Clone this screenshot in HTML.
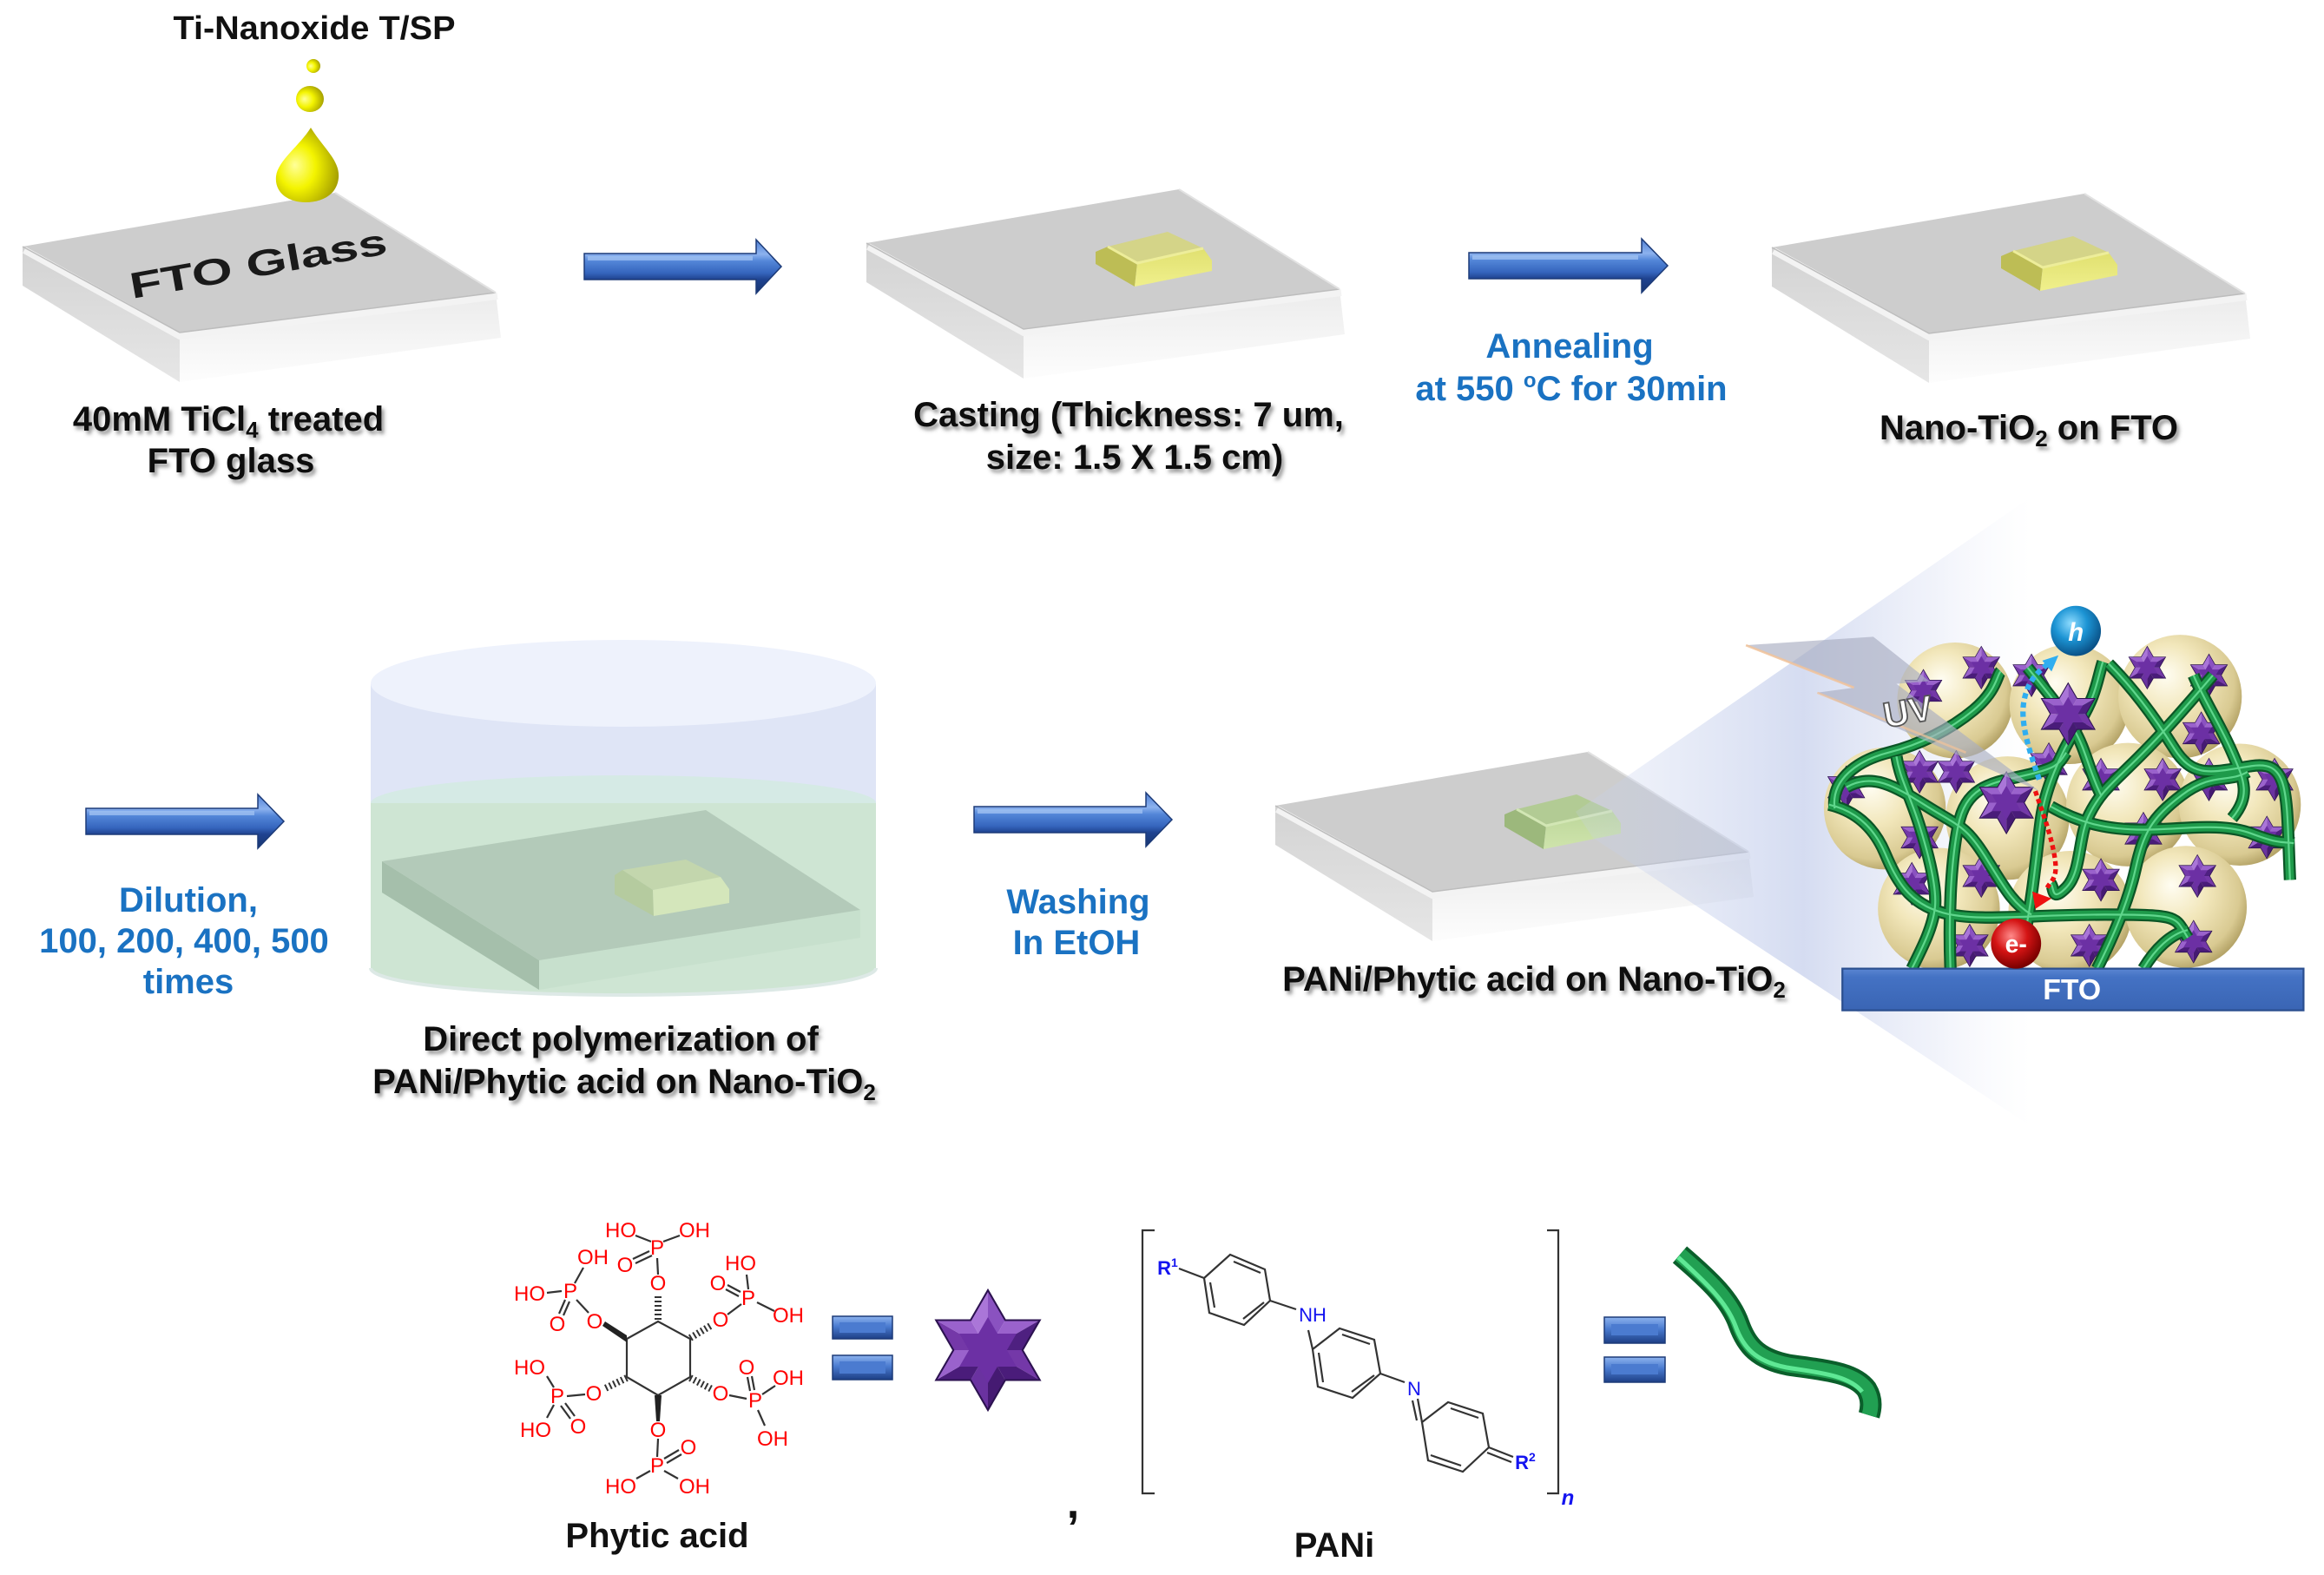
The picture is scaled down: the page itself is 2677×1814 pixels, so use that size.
<!DOCTYPE html>
<html><head><meta charset="utf-8">
<style>
html,body{margin:0;padding:0;background:#fff;}
svg{display:block;}
text{font-family:"Liberation Sans",Arial,sans-serif;font-weight:bold;}
.chem{font-weight:normal;fill:#ff0000;font-size:24px;}
.bl{fill:#1a72c2;}
</style></head><body>
<svg width="2677" height="1814" viewBox="0 0 2677 1814" xmlns="http://www.w3.org/2000/svg" xmlns:xlink="http://www.w3.org/1999/xlink">
<defs>
 <filter id="sh" x="-10%" y="-40%" width="125%" height="190%">
   <feDropShadow dx="3" dy="4" stdDeviation="2.2" flood-color="#444" flood-opacity="0.55"/>
 </filter>
 <linearGradient id="ag" x1="0" y1="0" x2="0" y2="1">
  <stop offset="0" stop-color="#4f7fd4"/><stop offset="0.27" stop-color="#8cb2ee"/>
  <stop offset="0.4" stop-color="#5386d8"/><stop offset="0.62" stop-color="#3565bd"/>
  <stop offset="0.74" stop-color="#1f4390"/><stop offset="1" stop-color="#173570"/>
 </linearGradient>
 <linearGradient id="eqg" x1="0" y1="0" x2="0" y2="1">
  <stop offset="0" stop-color="#8db3ee"/><stop offset="0.45" stop-color="#4a7bd0"/><stop offset="1" stop-color="#1d3f86"/>
 </linearGradient>
 <linearGradient id="lf" x1="0" y1="0" x2="0" y2="1"><stop offset="0" stop-color="#d3d3d3"/><stop offset="1" stop-color="#e6e6e6"/></linearGradient>
 <linearGradient id="ff" x1="0" y1="0" x2="0" y2="1"><stop offset="0" stop-color="#ebebeb"/><stop offset="1" stop-color="#fdfdfd"/></linearGradient>
 <linearGradient id="padF" x1="0" y1="0" x2="0" y2="1"><stop offset="0" stop-color="#e0e070"/><stop offset="1" stop-color="#f0f08c"/></linearGradient>
 <linearGradient id="padG" x1="0" y1="0" x2="0" y2="1"><stop offset="0" stop-color="#bcd69a"/><stop offset="1" stop-color="#cfe4ac"/></linearGradient>
 <radialGradient id="drop" cx="0.38" cy="0.55" r="0.65" fx="0.3" fy="0.5">
  <stop offset="0" stop-color="#ffff9a"/><stop offset="0.45" stop-color="#f4f400"/><stop offset="1" stop-color="#a09a00"/>
 </radialGradient>
 <radialGradient id="sph" cx="0.42" cy="0.4" r="0.62" fx="0.38" fy="0.32">
  <stop offset="0" stop-color="#fffdf2"/><stop offset="0.45" stop-color="#f2e7bb"/><stop offset="0.85" stop-color="#d9ca92"/><stop offset="1" stop-color="#b5a468"/>
 </radialGradient>
 <radialGradient id="hb" cx="0.4" cy="0.35" r="0.65"><stop offset="0" stop-color="#8fdcff"/><stop offset="0.5" stop-color="#1c94d4"/><stop offset="1" stop-color="#0a5288"/></radialGradient>
 <radialGradient id="eb" cx="0.4" cy="0.35" r="0.65"><stop offset="0" stop-color="#ff8a8a"/><stop offset="0.5" stop-color="#d41414"/><stop offset="1" stop-color="#7a0000"/></radialGradient>
 <linearGradient id="cone" gradientUnits="userSpaceOnUse" x1="1815" y1="0" x2="2340" y2="0">
  <stop offset="0" stop-color="#c8d2ee" stop-opacity="0.2"/><stop offset="0.5" stop-color="#b9c5e8" stop-opacity="0.6"/><stop offset="0.8" stop-color="#d3daf1" stop-opacity="0.3"/><stop offset="1" stop-color="#e8ecf8" stop-opacity="0"/>
 </linearGradient>
 <linearGradient id="fto" x1="0" y1="0" x2="0" y2="1"><stop offset="0" stop-color="#5b86d2"/><stop offset="0.2" stop-color="#4472c4"/><stop offset="1" stop-color="#3a65b4"/></linearGradient>

 <symbol id="st" viewBox="-100 -100 200 200" overflow="visible">
  <polygon points="0,0 0,-100 28.9,-50" fill="#8a52c0"/>
  <polygon points="0,0 28.9,-50 86.6,-50" fill="#9a62cc"/>
  <polygon points="0,0 86.6,-50 57.7,0" fill="#4e2080"/>
  <polygon points="0,0 57.7,0 86.6,50" fill="#7438a8"/>
  <polygon points="0,0 86.6,50 28.9,50" fill="#4a1c7a"/>
  <polygon points="0,0 28.9,50 0,100" fill="#451a72"/>
  <polygon points="0,0 0,100 -28.9,50" fill="#6a32a0"/>
  <polygon points="0,0 -28.9,50 -86.6,50" fill="#4a1c7a"/>
  <polygon points="0,0 -86.6,50 -57.7,0" fill="#9a62cc"/>
  <polygon points="0,0 -57.7,0 -86.6,-50" fill="#7438a8"/>
  <polygon points="0,0 -86.6,-50 -28.9,-50" fill="#9a62cc"/>
  <polygon points="0,0 -28.9,-50 0,-100" fill="#aa76d8"/>
  <polygon points="0,-55 15.9,-27.5 47.6,-27.5 31.7,0 47.6,27.5 15.9,27.5 0,55 -15.9,27.5 -47.6,27.5 -31.7,0 -47.6,-27.5 -15.9,-27.5" fill="#6c30a4"/>
  <polygon points="0,-100 28.9,-50 86.6,-50 57.7,0 86.6,50 28.9,50 0,100 -28.9,50 -86.6,50 -57.7,0 -86.6,-50 -28.9,-50" fill="none" stroke="#2c1250" stroke-width="3"/>
 </symbol>

 <g id="slab">
  <polygon points="0,0 181,99 181,156 0,45" fill="url(#lf)"/>
  <polygon points="181,99 545,53 551,105 181,156" fill="url(#ff)"/>
  <polygon points="0,0 360,-62 545,53 181,99" fill="#cdcdcd"/>
  <polyline points="2,4 181,103 547,57" fill="none" stroke="#f3f3f3" stroke-width="8"/>
  <polyline points="0,0 181,99 545,53" fill="none" stroke="#bdbdbd" stroke-width="1.5"/>
  <line x1="360" y1="-62" x2="545" y2="53" stroke="#e2e2e2" stroke-width="2"/>
 </g>
 <g id="padY">
  <polygon points="264,10 278,4 312,23 309,50 264,24" fill="#bdbd55"/>
  <polygon points="278,4 347,-13 388,6 312,23" fill="#d4d488"/>
  <polygon points="312,23 388,6 398,20 398,32 309,50" fill="url(#padF)"/>
  <polyline points="278,4 312,23 388,6" fill="none" stroke="#eded9a" stroke-width="3"/>
 </g>
 <g id="padGr">
  <polygon points="264,10 278,4 312,23 309,50 264,24" fill="#9cb87c"/>
  <polygon points="278,4 347,-13 388,6 312,23" fill="#b2cb94"/>
  <polygon points="312,23 388,6 398,20 398,32 309,50" fill="url(#padG)"/>
  <polyline points="278,4 312,23 388,6" fill="none" stroke="#d2e6b4" stroke-width="3"/>
 </g>
 <g id="tubes" fill="none" stroke-linecap="butt">
  <path d="M285,825 C350,840 400,880 430,950 S490,1080 580,1105 S800,1110 1000,1110 S1180,1115 1215,1170"/>
  <path d="M300,835 C290,760 360,710 440,690 S600,630 660,580 S720,490 730,480"/>
  <path d="M600,1250 C595,1120 600,980 620,880 S700,770 790,750 S880,720 900,690"/>
  <path d="M795,1150 C815,1050 825,930 835,860 S880,700 930,620 S980,500 995,455"/>
  <path d="M800,470 C840,520 890,580 920,630 S960,740 990,800"/>
  <path d="M1010,460 C1070,520 1130,600 1180,680 S1280,740 1380,725 S1470,790 1480,1020"/>
  <path d="M1280,490 C1220,560 1160,630 1090,700 S990,790 960,850 S940,1000 900,1040 S870,1040 860,1030"/>
  <path d="M860,830 C930,870 1000,890 1100,890 S1300,870 1380,900 S1460,920 1490,925"/>
  <path d="M330,780 C400,740 460,780 540,830 S640,880 690,960 S760,1080 810,1110"/>
  <path d="M980,1250 C1020,1170 1060,1080 1080,990 S1120,860 1200,800 S1320,770 1370,740"/>
  <path d="M500,1250 C530,1190 555,1140 560,1090 S545,960 520,880 S470,760 460,700"/>
  <path d="M1100,1250 C1130,1200 1170,1160 1215,1150"/>
  <path d="M1230,490 C1260,560 1300,620 1330,690 S1380,800 1330,860"/>
 </g>
</defs>

<rect width="2677" height="1814" fill="#ffffff"/>

<!-- ============ ROW 1 ============ -->
<text x="362" y="45" font-size="38" text-anchor="middle" textLength="325" lengthAdjust="spacingAndGlyphs" fill="#111">Ti-Nanoxide T/SP</text>

<circle cx="361" cy="76" r="8" fill="url(#drop)"/>
<ellipse cx="357" cy="114" rx="16" ry="15" fill="url(#drop)"/>

<use xlink:href="#slab" href="#slab" transform="translate(26,284)"/>
<path d="M358,147 C372,170 392,185 390,205 C388,225 370,233 352,233 C332,233 316,222 318,203 C320,185 345,168 358,147 Z" fill="url(#drop)"/>
<text transform="translate(300,318) rotate(-10)" font-size="42" text-anchor="middle" textLength="300" lengthAdjust="spacingAndGlyphs" fill="#1a1a1a">FTO Glass</text>

<text x="263" y="496" font-size="40" text-anchor="middle" fill="#111" filter="url(#sh)">40mM TiCl<tspan font-size="26" dy="8">4</tspan><tspan dy="-8"> treated</tspan></text>
<text x="266" y="544" font-size="40" text-anchor="middle" fill="#111" filter="url(#sh)">FTO glass</text>

<g>
 <polygon points="673,292 871,292 871,276 900,307 871,338 871,322 673,322" fill="url(#ag)" stroke="#1d3b78" stroke-width="1.5"/>
 <rect x="677" y="295" width="190" height="5" fill="#a6c6f4" opacity="0.7"/>
</g>

<use xlink:href="#slab" href="#slab" transform="translate(998,280)"/>
<use xlink:href="#padY" href="#padY" transform="translate(998,280)"/>
<text x="1300" y="491" font-size="40" text-anchor="middle" fill="#111" filter="url(#sh)">Casting (Thickness: 7 um,</text>
<text x="1307" y="540" font-size="40" text-anchor="middle" fill="#111" filter="url(#sh)">size: 1.5 X 1.5 cm)</text>

<g>
 <polygon points="1692,291 1891,291 1891,275 1921,306 1891,337 1891,321 1692,321" fill="url(#ag)" stroke="#1d3b78" stroke-width="1.5"/>
 <rect x="1696" y="294" width="191" height="5" fill="#a6c6f4" opacity="0.7"/>
</g>
<text class="bl" x="1808" y="412" font-size="40" text-anchor="middle">Annealing</text>
<text class="bl" x="1810" y="461" font-size="40" text-anchor="middle">at 550 <tspan font-size="24" dy="-15">o</tspan><tspan dy="15">C for 30min</tspan></text>

<use xlink:href="#slab" href="#slab" transform="translate(2041,285)"/>
<use xlink:href="#padY" href="#padY" transform="translate(2041,285)"/>
<text x="2337" y="506" font-size="40" text-anchor="middle" fill="#111" filter="url(#sh)">Nano-TiO<tspan font-size="26" dy="8">2</tspan><tspan dy="-8"> on FTO</tspan></text>

<!-- ============ ROW 2 ============ -->
<g>
 <polygon points="99,931 297,931 297,915 327,946 297,977 297,961 99,961" fill="url(#ag)" stroke="#1d3b78" stroke-width="1.5"/>
 <rect x="103" y="934" width="190" height="5" fill="#a6c6f4" opacity="0.7"/>
</g>
<text class="bl" x="217" y="1050" font-size="40" text-anchor="middle">Dilution,</text>
<text class="bl" x="212" y="1097" font-size="40" text-anchor="middle">100, 200, 400, 500</text>
<text class="bl" x="217" y="1144" font-size="40" text-anchor="middle">times</text>

<!-- beaker -->
<rect x="427" y="788" width="582" height="137" fill="#dfe5f6"/>
<ellipse cx="718" cy="787" rx="291" ry="50" fill="#eef2fc"/>
<path d="M427,925 A291,32 0 0 1 1009,925 Z" fill="#d5eae5"/>
<path d="M427,925 L1009,925 L1009,1115 A291,31 0 0 1 427,1115 Z" fill="#cee5d3"/>
<path d="M427,1115 A291,31 0 0 0 1009,1115" fill="none" stroke="#dde9e6" stroke-width="4"/>
<polygon points="440,992 621,1106 621,1140 440,1028" fill="#a5bfab"/>
<polygon points="621,1106 991,1048 991,1080 621,1140" fill="#c7e0cd"/>
<polygon points="440,992 813,933 991,1048 621,1106" fill="#b3cab9"/>
<polygon points="708,1008 717,1002 752,1025 753,1055 708,1030" fill="#b5cb9f"/>
<polygon points="717,1002 790,990 830,1010 752,1025" fill="#c3d6ad"/>
<polygon points="752,1025 830,1010 840,1024 840,1040 753,1055" fill="#d4e6bb"/>
<text x="715" y="1210" font-size="40" text-anchor="middle" fill="#111" filter="url(#sh)">Direct polymerization of</text>
<text x="719" y="1259" font-size="40" text-anchor="middle" fill="#111" filter="url(#sh)">PANi/Phytic acid on Nano-TiO<tspan font-size="26" dy="8">2</tspan></text>

<g>
 <polygon points="1122,929 1320,929 1320,913 1350,944 1320,975 1320,959 1122,959" fill="url(#ag)" stroke="#1d3b78" stroke-width="1.5"/>
 <rect x="1126" y="932" width="190" height="5" fill="#a6c6f4" opacity="0.7"/>
</g>
<text class="bl" x="1242" y="1052" font-size="40" text-anchor="middle">Washing</text>
<text class="bl" x="1240" y="1099" font-size="40" text-anchor="middle">In EtOH</text>

<use xlink:href="#slab" href="#slab" transform="translate(1469,928)"/>
<use xlink:href="#padGr" href="#padGr" transform="translate(1469,928)"/>

<!-- projection cone -->
<polygon points="1815,935 2350,565 2362,1312 1835,965" fill="url(#cone)"/>

<text x="1767" y="1141" font-size="40" text-anchor="middle" fill="#111" filter="url(#sh)">PANi/Phytic acid on Nano-TiO<tspan font-size="26" dy="8">2</tspan></text>

<!-- nanoparticle cluster -->
<g transform="translate(1980,560) scale(0.4445)">
 <circle cx="612" cy="555" r="150" fill="url(#sph)"/>
 <circle cx="908" cy="565" r="155" fill="url(#sph)"/>
 <circle cx="1195" cy="545" r="160" fill="url(#sph)"/>
 <circle cx="430" cy="835" r="158" fill="url(#sph)"/>
 <circle cx="748" cy="860" r="160" fill="url(#sph)"/>
 <circle cx="1060" cy="825" r="160" fill="url(#sph)"/>
 <circle cx="1350" cy="825" r="158" fill="url(#sph)"/>
 <circle cx="570" cy="1095" r="158" fill="url(#sph)"/>
 <circle cx="910" cy="1105" r="160" fill="url(#sph)"/>
 <circle cx="1210" cy="1090" r="158" fill="url(#sph)"/>

 <use href="#st" xlink:href="#st" x="625" y="415" width="110" height="110"/>
 <use href="#st" xlink:href="#st" x="475" y="475" width="110" height="110"/>
 <use href="#st" xlink:href="#st" x="755" y="435" width="110" height="110"/>
 <use href="#st" xlink:href="#st" x="1055" y="415" width="110" height="110"/>
 <use href="#st" xlink:href="#st" x="1215" y="435" width="110" height="110"/>
 <use href="#st" xlink:href="#st" x="1195" y="585" width="110" height="110"/>
 <use href="#st" xlink:href="#st" x="275" y="725" width="110" height="110"/>
 <use href="#st" xlink:href="#st" x="465" y="685" width="110" height="110"/>
 <use href="#st" xlink:href="#st" x="560" y="685" width="110" height="110"/>
 <use href="#st" xlink:href="#st" x="800" y="665" width="110" height="110"/>
 <use href="#st" xlink:href="#st" x="935" y="705" width="110" height="110"/>
 <use href="#st" xlink:href="#st" x="1095" y="705" width="110" height="110"/>
 <use href="#st" xlink:href="#st" x="1215" y="705" width="110" height="110"/>
 <use href="#st" xlink:href="#st" x="1385" y="705" width="110" height="110"/>
 <use href="#st" xlink:href="#st" x="465" y="855" width="110" height="110"/>
 <use href="#st" xlink:href="#st" x="1045" y="845" width="110" height="110"/>
 <use href="#st" xlink:href="#st" x="1365" y="855" width="110" height="110"/>
 <use href="#st" xlink:href="#st" x="445" y="975" width="110" height="110"/>
 <use href="#st" xlink:href="#st" x="625" y="955" width="110" height="110"/>
 <use href="#st" xlink:href="#st" x="935" y="965" width="110" height="110"/>
 <use href="#st" xlink:href="#st" x="1185" y="955" width="110" height="110"/>
 <use href="#st" xlink:href="#st" x="595" y="1135" width="110" height="110"/>
 <use href="#st" xlink:href="#st" x="905" y="1135" width="110" height="110"/>
 <use href="#st" xlink:href="#st" x="1175" y="1125" width="110" height="110"/>

 <use href="#tubes" xlink:href="#tubes" stroke="#0b5526" stroke-width="32"/>
 <use href="#tubes" xlink:href="#tubes" stroke="#1e9a4a" stroke-width="22"/>
 <use href="#tubes" xlink:href="#tubes" stroke="#5fd68c" stroke-width="5"/>

 <use href="#st" xlink:href="#st" x="825" y="510" width="160" height="160"/>
 <use href="#st" xlink:href="#st" x="665" y="740" width="160" height="160"/>

 <path d="M830,760 C810,700 780,620 790,560 S830,480 855,458" fill="none" stroke="#30aef0" stroke-width="14" stroke-dasharray="14,10"/>
 <polygon points="880,438 838,452 862,480" fill="#30aef0"/>
 <path d="M820,790 C840,850 860,900 870,960 S860,1020 848,1045" fill="none" stroke="#ee1111" stroke-width="12" stroke-dasharray="12,9"/>
 <polygon points="812,1050 862,1068 820,1095" fill="#ee1111"/>

 <rect x="320" y="1250" width="1195" height="108" fill="url(#fto)" stroke="#2b4f8f" stroke-width="5"/>
 <text x="915" y="1330" font-size="76" text-anchor="middle" fill="#ffffff">FTO</text>

 <circle cx="925" cy="375" r="65" fill="url(#hb)"/>
 <text x="925" y="400" font-size="66" text-anchor="middle" fill="#fff" font-style="italic">h</text>
 <circle cx="770" cy="1185" r="65" fill="url(#eb)"/>
 <text x="770" y="1208" font-size="64" text-anchor="middle" fill="#fff">e-</text>

 <polygon points="70,412 400,390 545,505 460,512 830,790 255,535 350,522" fill="#a9aec2" opacity="0.65"/>
 <line x1="70" y1="412" x2="350" y2="522" stroke="#f2c39a" stroke-width="6" opacity="0.85"/>
 <line x1="255" y1="535" x2="640" y2="690" stroke="#f2c39a" stroke-width="6" opacity="0.7"/>
 <text transform="translate(495,615) rotate(-10)" font-size="92" text-anchor="middle" fill="#ffffff" stroke="#555" stroke-width="4">UV</text>
</g>

<!-- ============ ROW 3 ============ -->
<g stroke="#333" stroke-width="2.2" fill="none">
 <polygon points="758,1522 795,1542 795,1586 758,1607 722,1586 722,1542"/>
 <line x1="758" y1="1520" x2="758" y2="1492" stroke-width="8" stroke-dasharray="2,3"/>
 <line x1="795" y1="1541" x2="820" y2="1526" stroke-width="8" stroke-dasharray="2,3"/>
 <line x1="795" y1="1587" x2="820" y2="1600" stroke-width="8" stroke-dasharray="2,3"/>
 <line x1="722" y1="1587" x2="695" y2="1600" stroke-width="8" stroke-dasharray="2,3"/>
 <line x1="758" y1="1468" x2="757" y2="1449"/>
 <line x1="748" y1="1441" x2="729" y2="1450"/><line x1="751" y1="1446" x2="732" y2="1455"/>
 <line x1="750" y1="1430" x2="732" y2="1423"/><line x1="764" y1="1430" x2="783" y2="1423"/>
 <line x1="678" y1="1512" x2="664" y2="1497"/>
 <line x1="662" y1="1478" x2="672" y2="1460"/><line x1="647" y1="1487" x2="630" y2="1489"/>
 <line x1="651" y1="1497" x2="644" y2="1513"/><line x1="656" y1="1499" x2="649" y2="1515"/>
 <line x1="838" y1="1514" x2="854" y2="1502"/>
 <line x1="862" y1="1485" x2="860" y2="1468"/>
 <line x1="853" y1="1488" x2="838" y2="1480"/><line x1="851" y1="1493" x2="836" y2="1485"/>
 <line x1="872" y1="1500" x2="892" y2="1510"/>
 <line x1="674" y1="1606" x2="653" y2="1608"/>
 <line x1="638" y1="1598" x2="630" y2="1585"/><line x1="638" y1="1618" x2="630" y2="1633"/>
 <line x1="646" y1="1619" x2="657" y2="1634"/><line x1="651" y1="1616" x2="662" y2="1631"/>
 <line x1="840" y1="1607" x2="860" y2="1611"/>
 <line x1="864" y1="1602" x2="861" y2="1586"/><line x1="869" y1="1601" x2="866" y2="1585"/>
 <line x1="878" y1="1606" x2="893" y2="1596"/><line x1="873" y1="1624" x2="881" y2="1642"/>
 <line x1="758" y1="1657" x2="757" y2="1678"/>
 <line x1="765" y1="1680" x2="782" y2="1670"/><line x1="768" y1="1685" x2="785" y2="1675"/>
 <line x1="749" y1="1694" x2="733" y2="1703"/><line x1="765" y1="1694" x2="781" y2="1703"/>
</g>
<polygon points="722,1538 722,1546 694,1527 697,1522" fill="#222"/>
<polygon points="754,1607 762,1607 760,1637 756,1637" fill="#222"/>
<g class="chem" text-anchor="middle">
 <text class="chem" x="758" y="1486">O</text>
 <text class="chem" x="757" y="1445">P</text>
 <text class="chem" x="720" y="1465">O</text>
 <text class="chem" x="715" y="1425">HO</text>
 <text class="chem" x="800" y="1425">OH</text>
 <text class="chem" x="685" y="1530">O</text>
 <text class="chem" x="657" y="1495">P</text>
 <text class="chem" x="683" y="1456">OH</text>
 <text class="chem" x="610" y="1498">HO</text>
 <text class="chem" x="642" y="1533">O</text>
 <text class="chem" x="830" y="1528">O</text>
 <text class="chem" x="862" y="1503">P</text>
 <text class="chem" x="853" y="1463">HO</text>
 <text class="chem" x="827" y="1486">O</text>
 <text class="chem" x="908" y="1523">OH</text>
 <text class="chem" x="684" y="1613">O</text>
 <text class="chem" x="642" y="1616">P</text>
 <text class="chem" x="610" y="1583">HO</text>
 <text class="chem" x="617" y="1655">HO</text>
 <text class="chem" x="666" y="1651">O</text>
 <text class="chem" x="830" y="1613">O</text>
 <text class="chem" x="870" y="1621">P</text>
 <text class="chem" x="860" y="1583">O</text>
 <text class="chem" x="908" y="1595">OH</text>
 <text class="chem" x="890" y="1665">OH</text>
 <text class="chem" x="758" y="1655">O</text>
 <text class="chem" x="757" y="1696">P</text>
 <text class="chem" x="793" y="1675">O</text>
 <text class="chem" x="715" y="1720">HO</text>
 <text class="chem" x="800" y="1720">OH</text>
</g>
<text x="757" y="1782" font-size="40" text-anchor="middle" fill="#111">Phytic acid</text>

<g stroke="#1d3b78" stroke-width="1.5">
 <rect x="959" y="1516" width="69" height="26" fill="url(#eqg)"/>
 <rect x="959" y="1561" width="69" height="28" fill="url(#eqg)"/>
</g>
<rect x="967" y="1523" width="53" height="12" fill="#4b7bd0"/>
<rect x="967" y="1568" width="53" height="14" fill="#4b7bd0"/>

<use href="#st" xlink:href="#st" x="1069" y="1486" width="138" height="138"/>

<text x="1236" y="1748" font-size="52" text-anchor="middle" fill="#111">,</text>

<g stroke="#333" stroke-width="2.2" fill="none">
 <path d="M1330,1417 H1316 V1720 H1330"/>
 <path d="M1782,1417 H1795 V1720 H1782"/>
 <polygon points="1387,1472 1417,1445 1457,1462 1463,1498 1433,1526 1393,1512"/>
 <line x1="1421" y1="1453" x2="1452" y2="1466"/>
 <line x1="1394" y1="1477" x2="1399" y2="1506"/>
 <line x1="1456" y1="1500" x2="1432" y2="1519"/>
 <line x1="1358" y1="1461" x2="1387" y2="1472"/>
 <line x1="1463" y1="1498" x2="1493" y2="1508"/>
 <line x1="1507" y1="1532" x2="1512" y2="1554"/>
 <polygon points="1512,1554 1543,1530 1583,1543 1590,1582 1558,1610 1518,1597"/>
 <line x1="1546" y1="1537" x2="1578" y2="1548"/>
 <line x1="1519" y1="1558" x2="1524" y2="1592"/>
 <line x1="1583" y1="1584" x2="1557" y2="1603"/>
 <line x1="1590" y1="1582" x2="1618" y2="1592"/>
 <line x1="1633" y1="1611" x2="1638" y2="1638"/>
 <line x1="1627" y1="1613" x2="1632" y2="1636"/>
 <polygon points="1638,1638 1668,1615 1708,1628 1715,1667 1685,1695 1645,1682"/>
 <line x1="1671" y1="1622" x2="1703" y2="1633"/>
 <line x1="1648" y1="1676" x2="1683" y2="1688"/>
 <line x1="1715" y1="1667" x2="1743" y2="1678"/>
 <line x1="1713" y1="1673" x2="1741" y2="1684"/>
</g>
<g fill="#1414f0">
 <text x="1345" y="1468" font-size="22" text-anchor="middle">R<tspan font-size="14" dy="-9">1</tspan></text>
 <text x="1512" y="1522" font-size="22" text-anchor="middle" style="font-weight:normal">NH</text>
 <text x="1629" y="1607" font-size="22" text-anchor="middle" style="font-weight:normal">N</text>
 <text x="1757" y="1692" font-size="22" text-anchor="middle">R<tspan font-size="14" dy="-9">2</tspan></text>
 <text x="1806" y="1733" font-size="24" text-anchor="middle" font-style="italic">n</text>
</g>
<text x="1537" y="1793" font-size="40" text-anchor="middle" fill="#111">PANi</text>

<g stroke="#1d3b78" stroke-width="1.5">
 <rect x="1848" y="1517" width="70" height="30" fill="url(#eqg)"/>
 <rect x="1848" y="1563" width="70" height="29" fill="url(#eqg)"/>
</g>
<rect x="1856" y="1525" width="54" height="13" fill="#4b7bd0"/>
<rect x="1856" y="1571" width="54" height="12" fill="#4b7bd0"/>

<g fill="none" stroke-linecap="butt">
 <path d="M1935,1445 C1970,1475 1993,1497 2003,1525 C2012,1550 2025,1565 2060,1572 C2100,1578 2135,1580 2150,1600 C2156,1610 2156,1620 2153,1630" stroke="#0b5f2b" stroke-width="25"/>
 <path d="M1935,1445 C1970,1475 1993,1497 2003,1525 C2012,1550 2025,1565 2060,1572 C2100,1578 2135,1580 2150,1600 C2156,1610 2156,1620 2153,1630" stroke="#21a052" stroke-width="17"/>
 <path d="M1933,1448 C1966,1478 1989,1500 1999,1527 C2008,1552 2022,1568 2058,1575 C2096,1581 2130,1584 2145,1603" stroke="#5fe895" stroke-width="5"/>
</g>
</svg>
</body></html>
